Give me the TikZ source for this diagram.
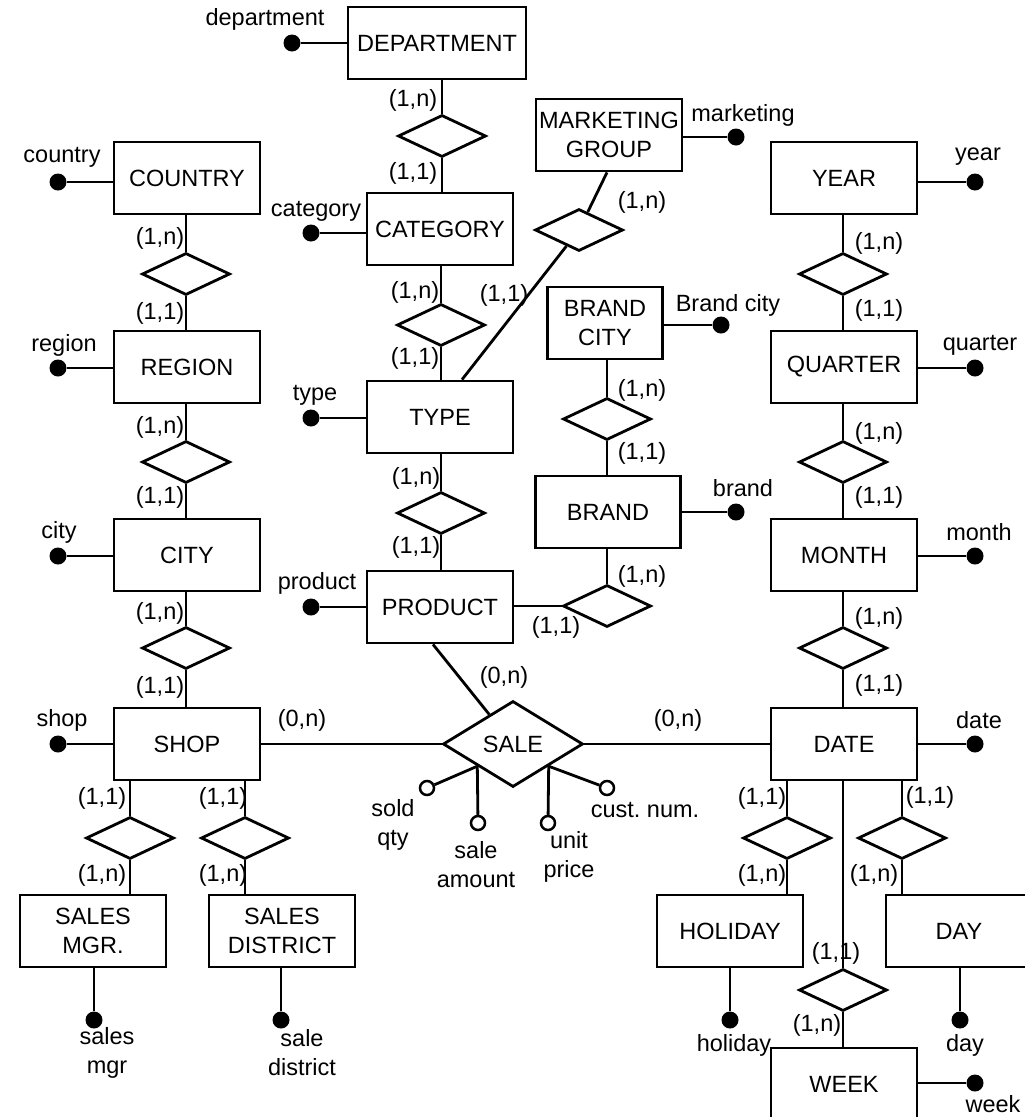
\documentclass[tikz,border=0pt]{standalone}
\usepackage{fontspec}
\setmainfont{Liberation Sans}
\usetikzlibrary{shapes.geometric}

\begin{document}
\begin{tikzpicture}[x=1pt,y=-1pt,
  every node/.style={font=\fontsize{23.5}{29}\selectfont},
  ent/.style={draw, line width=2.8pt, minimum width=146pt, minimum height=72pt, inner sep=0pt, align=center},
  rel/.style={draw, diamond, line width=2.8pt, minimum width=88pt, minimum height=42pt, inner sep=0pt},
  dot/.style={circle, fill=black, inner sep=0pt, minimum size=17pt},
  odot/.style={circle, draw, fill=white, line width=2.5pt, inner sep=0pt, minimum size=14pt},
  lbl/.style={inner sep=0pt, align=center},
  conn/.style={line width=2.8pt}
]
\clip (0,0) rectangle (1025,1117);

% ---------- entities ----------
\node[ent, minimum width=178pt] (dept) at (437,43) {DEPARTMENT};
\node[ent] (country) at (187,178) {COUNTRY};
\node[ent] (cat) at (440,229) {CATEGORY};
\node[ent] (mkt) at (609,135) {MARKETING\\GROUP};
\node[ent] (year) at (844,178) {YEAR};
\node[ent, minimum width=115pt] (bcity) at (605,323) {BRAND\\CITY};
\node[ent] (region) at (187,367) {REGION};
\node[ent] (quarter) at (844,367) {QUARTER};
\node[ent] (type) at (440,417) {TYPE};
\node[ent, minimum width=145pt] (brand) at (608,512) {BRAND};
\node[ent] (city) at (187,555) {CITY};
\node[ent] (month) at (844,555) {MONTH};
\node[ent] (product) at (440,607) {PRODUCT};
\node[ent] (shop) at (187,744) {SHOP};
\node[ent] (date) at (844,744) {DATE};
\node[ent] (smgr) at (93,931) {SALES\\MGR.};
\node[ent] (sdist) at (282,931) {SALES\\DISTRICT};
\node[ent] (holiday) at (730,931) {HOLIDAY};
\node[ent] (day) at (959,931) {DAY};
\node[ent] (week) at (844,1084) {WEEK};

% ---------- relationships ----------
\node[rel] (r1) at (442,136) {};
\node[rel] (r2) at (441,325) {};
\node[rel] (r3) at (441,513) {};
\node[rel] (r4) at (186,274) {};
\node[rel] (r5) at (186,462) {};
\node[rel] (r6) at (186,648) {};
\node[rel] (r7) at (579,230) {};
\node[rel] (r8) at (607,419) {};
\node[rel] (r9) at (607,606) {};
\node[rel] (r10) at (843,274) {};
\node[rel] (r11) at (843,462) {};
\node[rel] (r12) at (843,648) {};
\node[rel] (r13) at (130,838) {};
\node[rel] (r14) at (245,838) {};
\node[rel] (r15) at (787,838) {};
\node[rel] (r16) at (902,838) {};
\node[rel] (r17) at (843,990) {};
\node[rel, minimum width=140pt, minimum height=86pt] (sale) at (513,744) {SALE};

% ---------- hierarchy connectors ----------
\draw[conn] (dept.south -| r1) -- (r1);     \draw[conn] (r1) -- (cat.north -| r1);
\draw[conn] (cat.south -| r2) -- (r2);      \draw[conn] (r2) -- (type.north -| r2);
\draw[conn] (type.south -| r3) -- (r3);     \draw[conn] (r3) -- (product.north -| r3);
\draw[conn] (country.south -| r4) -- (r4);  \draw[conn] (r4) -- (region.north -| r4);
\draw[conn] (region.south -| r5) -- (r5);   \draw[conn] (r5) -- (city.north -| r5);
\draw[conn] (city.south -| r6) -- (r6);     \draw[conn] (r6) -- (shop.north -| r6);
\draw[conn] ([xshift=-2pt]mkt.south) -- (r7); \draw[conn] (r7) -- ([xshift=22pt]type.north);
\draw[conn] (bcity.south -| r8) -- (r8);    \draw[conn] (r8) -- (brand.north -| r8);
\draw[conn] (brand.south -| r9) -- (r9);    \draw[conn] (r9) -- (product.east |- r9);
\draw[conn] (year.south -| r10) -- (r10);   \draw[conn] (r10) -- (quarter.north -| r10);
\draw[conn] (quarter.south -| r11) -- (r11); \draw[conn] (r11) -- (month.north -| r11);
\draw[conn] (month.south -| r12) -- (r12);  \draw[conn] (r12) -- (date.north -| r12);
\draw[conn] (shop.south -| r13) -- (r13);   \draw[conn] (r13) -- (smgr.north -| r13);
\draw[conn] (shop.south -| r14) -- (r14);   \draw[conn] (r14) -- (sdist.north -| r14);
\draw[conn] (date.south -| r15) -- (r15);   \draw[conn] (r15) -- (holiday.north -| r15);
\draw[conn] (date.south -| r16) -- (r16);   \draw[conn] (r16) -- (day.north -| r16);
\draw[conn] (date.south -| r17) -- (r17);   \draw[conn] (r17) -- (week.north -| r17);

% ---------- fact connectors ----------
\draw[conn] (shop.east) -- (sale.west);
\draw[conn] (sale.east) -- (date.west);
\draw[conn] ([xshift=-7pt]product.south) -- (sale);

% ---------- cardinalities ----------
\node[lbl] (k1) at (413,100) {(1,n)};
\node[lbl] (k2) at (413,173) {(1,1)};
\node[lbl] (k3) at (415,292) {(1,n)};
\node[lbl] (k4) at (415,358) {(1,1)};
\node[lbl] (k5) at (416,478) {(1,n)};
\node[lbl] (k6) at (416,547) {(1,1)};
\node[lbl] (k7) at (160,238) {(1,n)};
\node[lbl] (k8) at (160,313) {(1,1)};
\node[lbl] (k9) at (160,427) {(1,n)};
\node[lbl] (k10) at (160,497) {(1,1)};
\node[lbl] (k11) at (160,613) {(1,n)};
\node[lbl] (k12) at (160,687) {(1,1)};
\node[lbl] (k13) at (642,202) {(1,n)};
\node[lbl] (k14) at (504,295) {(1,1)};
\node[lbl] (k15) at (642,390) {(1,n)};
\node[lbl] (k16) at (642,453) {(1,1)};
\node[lbl] (k17) at (642,576) {(1,n)};
\node[lbl] (k18) at (556,627) {(1,1)};
\node[lbl] (k19) at (504,677) {(0,n)};
\node[lbl] (k20) at (302,720) {(0,n)};
\node[lbl] (k21) at (678,720) {(0,n)};
\node[lbl] (k22) at (879,243) {(1,n)};
\node[lbl] (k23) at (879,310) {(1,1)};
\node[lbl] (k24) at (879,433) {(1,n)};
\node[lbl] (k25) at (879,497) {(1,1)};
\node[lbl] (k26) at (879,618) {(1,n)};
\node[lbl] (k27) at (879,685) {(1,1)};
\node[lbl] (k28) at (762,798) {(1,1)};
\node[lbl] (k29) at (762,875) {(1,n)};
\node[lbl] (k30) at (930,797) {(1,1)};
\node[lbl] (k31) at (874,875) {(1,n)};
\node[lbl] (k32) at (836,953) {(1,1)};
\node[lbl] (k33) at (817,1025) {(1,n)};
\node[lbl] (k34) at (102,798) {(1,1)};
\node[lbl] (k35) at (102,875) {(1,n)};
\node[lbl] (k36) at (223,798) {(1,1)};
\node[lbl] (k37) at (223,875) {(1,n)};

% ---------- dimension attributes ----------
\node[dot] (a1) at (292,43) {};   \node[lbl] (t1) at (265,19) {department};
\draw[conn] (a1) -- (a1 -| dept.west);
\node[dot] (a2) at (58,182) {};   \node[lbl] (t2) at (62,157) {country};
\draw[conn] (a2) -- (a2 -| country.west);
\node[dot] (a3) at (311,233) {};  \node[lbl] (t3) at (316,211) {category};
\draw[conn] (a3) -- (a3 -| cat.west);
\node[dot] (a4) at (58,368) {};   \node[lbl] (t4) at (64,345) {region};
\draw[conn] (a4) -- (a4 -| region.west);
\node[dot] (a5) at (311,418) {};  \node[lbl] (t5) at (315,395) {type};
\draw[conn] (a5) -- (a5 -| type.west);
\node[dot] (a6) at (58,556) {};   \node[lbl] (t6) at (59,532) {city};
\draw[conn] (a6) -- (a6 -| city.west);
\node[dot] (a7) at (311,607) {};  \node[lbl] (t7) at (317,583) {product};
\draw[conn] (a7) -- (a7 -| product.west);
\node[dot] (a8) at (58,744) {};   \node[lbl] (t8) at (62,720) {shop};
\draw[conn] (a8) -- (a8 -| shop.west);
\node[dot] (a9) at (736,137) {};  \node[lbl] (t9) at (743,115) {marketing};
\draw[conn] (a9) -- (a9 -| mkt.east);
\node[dot] (a10) at (975,182) {}; \node[lbl] (t10) at (978,157) {year};
\draw[conn] (a10) -- (a10 -| year.east);
\node[dot] (a11) at (721,325) {}; \node[lbl] (t11) at (728,305) {Brand city};
\draw[conn] (a11) -- (a11 -| bcity.east);
\node[dot] (a12) at (975,368) {}; \node[lbl] (t12) at (980,345) {quarter};
\draw[conn] (a12) -- (a12 -| quarter.east);
\node[dot] (a13) at (736,512) {}; \node[lbl] (t13) at (743,488) {brand};
\draw[conn] (a13) -- (a13 -| brand.east);
\node[dot] (a14) at (975,556) {}; \node[lbl] (t14) at (979,532) {month};
\draw[conn] (a14) -- (a14 -| month.east);
\node[dot] (a15) at (975,744) {}; \node[lbl] (t15) at (979,720) {date};
\draw[conn] (a15) -- (a15 -| date.east);
\node[dot] (a16) at (730,1020) {}; \node[lbl] (t16) at (734,1045) {holiday};
\draw[conn] (a16) -- (a16 |- holiday.south);
\node[dot] (a17) at (960,1020) {}; \node[lbl] (t17) at (965,1045) {day};
\draw[conn] (a17) -- (a17 |- day.south);
\node[dot] (a18) at (975,1083) {}; \node[lbl] (t18) at (993,1104) {week};
\draw[conn] (a18) -- (a18 -| week.east);
\node[dot] (a19) at (94,1020) {};  \node[lbl] (t19) at (107,1053) {sales\\mgr};
\draw[conn] (a19) -- (a19 |- smgr.south);
\node[dot] (a20) at (281,1020) {}; \node[lbl] (t20) at (302,1053) {sale\\district};
\draw[conn] (a20) -- (a20 |- sdist.south);

% ---------- measures of the fact ----------
\node[odot] (m1) at (427,788) {};
\node[odot] (m2) at (478,823) {};
\node[odot] (m3) at (548,823) {};
\node[odot] (m4) at (607,788) {};
\draw[conn] (sale.south west) -- (m1);
\draw[conn] (sale.south west) -- (m2);
\draw[conn] (sale.south east) -- (m3);
\draw[conn] (sale.south east) -- (m4);
\node[lbl] (u1) at (393,825) {sold\\qty};
\node[lbl] (u2) at (476,865) {sale\\amount};
\node[lbl] (u3) at (569,857) {unit\\price};
\node[lbl] (u4) at (645,810) {cust.\ num.};
\end{tikzpicture}
\end{document}
